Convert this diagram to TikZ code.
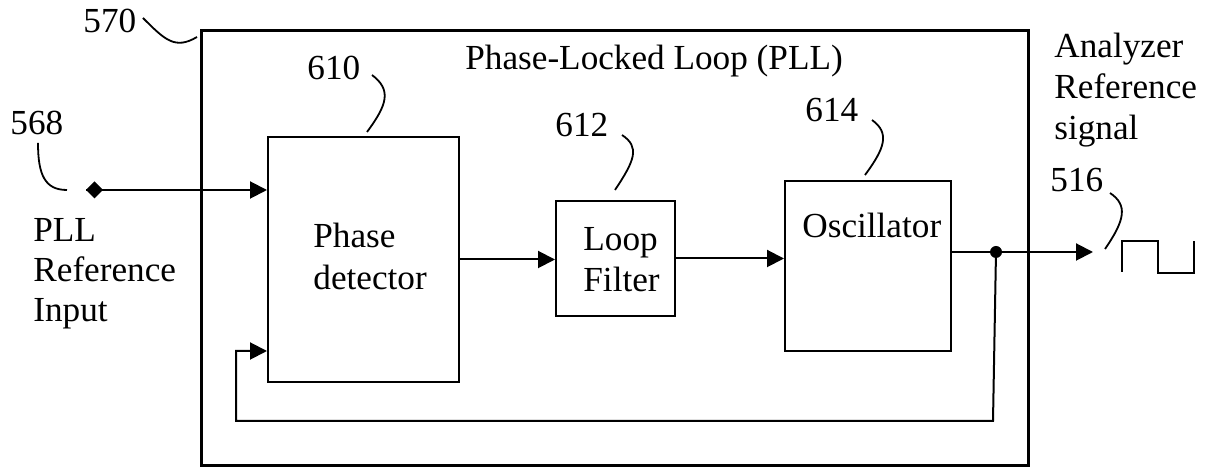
\documentclass[tikz,border=0pt]{standalone}
\usepackage{fontspec}
\setmainfont{Liberation Serif}
\usetikzlibrary{arrows.meta,shapes.geometric}
\begin{document}
\begin{tikzpicture}[x=0.5pt,y=-0.5pt,
  txt/.style={inner sep=0pt,anchor=base west,font=\fontsize{17.6pt}{20.5pt}\selectfont},
  blk/.style={draw,line width=1pt,inner sep=0pt},
  arr/.style={line width=1pt,-{Triangle[length=8.5pt,width=8.5pt]}},
  wire/.style={line width=1pt},
  lead/.style={line width=0.9pt}]
\useasboundingbox (0,0) rectangle (1206,469);
% outer PLL box
\node[draw,line width=1.5pt,inner sep=0pt,minimum width=413.5pt,minimum height=217.5pt] (pll) at (614.5,248.5) {};
\node[txt] (title) at (465,70) {Phase-Locked Loop (PLL)};
% blocks
\node[blk,minimum width=95.5pt,minimum height=122.5pt] (pd) at (363.5,259.5) {};
\node[txt] (pdt1) at (313,248) {Phase};
\node[txt] (pdt2) at (313,290) {detector};
\node[blk,minimum width=59.5pt,minimum height=57.5pt] (lf) at (615.5,258.5) {};
\node[txt] (lft1) at (583,251) {Loop};
\node[txt] (lft2) at (583,292) {Filter};
\node[blk,minimum width=83pt,minimum height=85pt] (osc) at (868,266) {};
\node[txt] (osct) at (802,238) {Oscillator};
% reference numerals
\node[txt] (l570) at (83,33) {570};
\node[txt] (l610) at (307,80) {610};
\node[txt] (l568) at (10,135) {568};
\node[txt] (l612) at (555,137) {612};
\node[txt] (l614) at (805,122) {614};
\node[txt] (l516) at (1050,192) {516};
% side labels
\node[txt] (in1) at (33,242) {PLL};
\node[txt] (in2) at (33,282) {Reference};
\node[txt] (in3) at (33,322) {Input};
\node[txt] (an1) at (1054,58) {Analyzer};
\node[txt] (an2) at (1054,99) {Reference};
\node[txt] (an3) at (1054,140) {signal};
% leaders
\draw[lead] (143,18) .. controls (165,40) and (175,50) .. (197,37);
\draw[lead] (372,75) .. controls (392,90) and (387,105) .. (367,132);
\draw[lead] (38,143) .. controls (38,175) and (45,190) .. (67,190);
\draw[lead] (622,135) .. controls (640,147) and (635,160) .. (615,190);
\draw[lead] (872,120) .. controls (890,133) and (885,148) .. (865,175);
\draw[lead] (1110,193) .. controls (1128,205) and (1125,220) .. (1105,249);
% input terminal
\coordinate (ind) at (86,190);
\fill (ind) -- ++(8.5,-8.5) -- ++(8.5,8.5) -- ++(-8.5,8.5) -- cycle;
\draw[arr] (ind) -- (ind -| pd.west);
% forward path
\draw[arr] (pd.east) -- (pd.east -| lf.west);
\draw[arr] (lf.east) -- (lf.east -| osc.west);
\coordinate (j) at (996,252);
\coordinate (out) at (1093,252);
\draw[arr] (osc.east |- j) -- (out);
\fill (j) circle (3pt);
% feedback
\coordinate (fb1) at (993,421);
\coordinate (fb2) at (236,351);
\draw[arr] (j) -- (fb1) -| (fb2) -- (pd.west |- fb2);
% square wave
\draw[line width=1.2pt] (1122,272) -- (1122,241) -- (1158,241) -- (1158,273) -- (1194,273) -- (1194,241);
\end{tikzpicture}
\end{document}
